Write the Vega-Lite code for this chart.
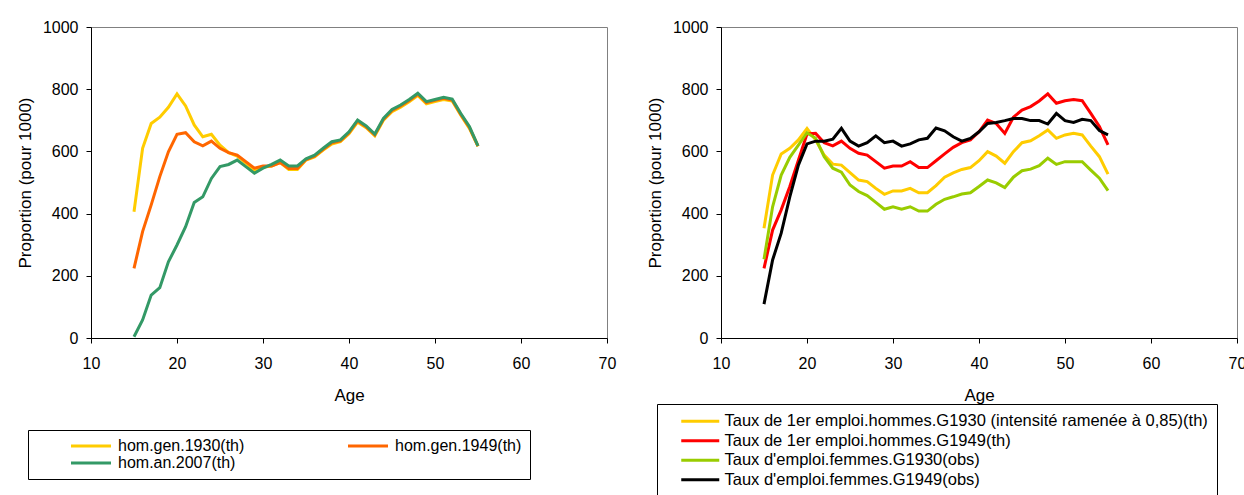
{
  "$schema": "https://vega.github.io/schema/vega-lite/v6.json",
  "background": "white",
  "padding": {"left": 15, "top": 18, "right": 0, "bottom": 0},
  "spacing": 28,
  "resolve": {"scale": {"color": "independent"}, "legend": {"color": "independent"}},
  "config": {
    "font": "Liberation Sans",
    "view": {"stroke": "#808080", "strokeWidth": 1},
    "axis": {
      "grid": false, "domainColor": "black", "domainWidth": 1, "tickColor": "black", "tickSize": 5,
      "labelFontSize": 16, "labelColor": "black", "labelFont": "Liberation Sans",
      "titleFontSize": 17, "titleFontWeight": "normal", "titleColor": "black", "titleFont": "Liberation Sans"
    },
    "legend": {"labelColor": "black", "labelFont": "Liberation Sans", "strokeColor": "black", "labelLimit": 0, "symbolStrokeWidth": 3, "symbolSize": 100, "titleFontSize": 10, "titleOrient": "left"},
    "line": {"strokeWidth": 3}
  },
  "datasets": {
    "left": [
      {"age": 15, "y1930": 406, "y1949": 224, "y2007": 4},
      {"age": 16, "y1930": 610, "y1949": 342, "y2007": 58},
      {"age": 17, "y1930": 690, "y1949": 428, "y2007": 138},
      {"age": 18, "y1930": 710, "y1949": 519, "y2007": 162},
      {"age": 19, "y1930": 742, "y1949": 599, "y2007": 245},
      {"age": 20, "y1930": 785, "y1949": 655, "y2007": 299},
      {"age": 21, "y1930": 746, "y1949": 660, "y2007": 358},
      {"age": 22, "y1930": 685, "y1949": 631, "y2007": 436},
      {"age": 23, "y1930": 647, "y1949": 618, "y2007": 454},
      {"age": 24, "y1930": 655, "y1949": 633, "y2007": 513},
      {"age": 25, "y1930": 620, "y1949": 610, "y2007": 551},
      {"age": 26, "y1930": 596, "y1949": 596, "y2007": 558},
      {"age": 27, "y1930": 585, "y1949": 588, "y2007": 572},
      {"age": 28, "y1930": 562, "y1949": 567, "y2007": 551},
      {"age": 29, "y1930": 538, "y1949": 546, "y2007": 530},
      {"age": 30, "y1930": 549, "y1949": 553, "y2007": 546},
      {"age": 31, "y1930": 553, "y1949": 553, "y2007": 558},
      {"age": 32, "y1930": 564, "y1949": 564, "y2007": 572},
      {"age": 33, "y1930": 542, "y1949": 545, "y2007": 553},
      {"age": 34, "y1930": 542, "y1949": 545, "y2007": 553},
      {"age": 35, "y1930": 572, "y1949": 574, "y2007": 576},
      {"age": 36, "y1930": 582, "y1949": 585, "y2007": 588},
      {"age": 37, "y1930": 604, "y1949": 607, "y2007": 610},
      {"age": 38, "y1930": 624, "y1949": 628, "y2007": 631},
      {"age": 39, "y1930": 631, "y1949": 634, "y2007": 637},
      {"age": 40, "y1930": 657, "y1949": 660, "y2007": 663},
      {"age": 41, "y1930": 694, "y1949": 698, "y2007": 701},
      {"age": 42, "y1930": 676, "y1949": 679, "y2007": 682},
      {"age": 43, "y1930": 650, "y1949": 653, "y2007": 656},
      {"age": 44, "y1930": 700, "y1949": 703, "y2007": 706},
      {"age": 45, "y1930": 728, "y1949": 732, "y2007": 735},
      {"age": 46, "y1930": 742, "y1949": 746, "y2007": 749},
      {"age": 47, "y1930": 760, "y1949": 764, "y2007": 767},
      {"age": 48, "y1930": 780, "y1949": 784, "y2007": 787},
      {"age": 49, "y1930": 753, "y1949": 757, "y2007": 760},
      {"age": 50, "y1930": 760, "y1949": 764, "y2007": 767},
      {"age": 51, "y1930": 767, "y1949": 771, "y2007": 774},
      {"age": 52, "y1930": 762, "y1949": 765, "y2007": 768},
      {"age": 53, "y1930": 716, "y1949": 719, "y2007": 722},
      {"age": 54, "y1930": 674, "y1949": 677, "y2007": 680},
      {"age": 55, "y1930": 616, "y1949": 617, "y2007": 618}
    ],
    "right": [
      {"age": 15, "h1930": 353, "h1949": 224, "f1930": 253, "f1949": 109},
      {"age": 16, "h1930": 524, "h1949": 347, "f1930": 422, "f1949": 251},
      {"age": 17, "h1930": 592, "h1949": 412, "f1930": 524, "f1949": 337},
      {"age": 18, "h1930": 610, "h1949": 487, "f1930": 581, "f1949": 454},
      {"age": 19, "h1930": 637, "h1949": 572, "f1930": 620, "f1949": 556},
      {"age": 20, "h1930": 674, "h1949": 656, "f1930": 660, "f1949": 624},
      {"age": 21, "h1930": 637, "h1949": 658, "f1930": 642, "f1949": 633},
      {"age": 22, "h1930": 588, "h1949": 628, "f1930": 583, "f1949": 633},
      {"age": 23, "h1930": 559, "h1949": 618, "f1930": 546, "f1949": 639},
      {"age": 24, "h1930": 556, "h1949": 633, "f1930": 533, "f1949": 674},
      {"age": 25, "h1930": 532, "h1949": 610, "f1930": 492, "f1949": 633},
      {"age": 26, "h1930": 508, "h1949": 594, "f1930": 471, "f1949": 617},
      {"age": 27, "h1930": 503, "h1949": 588, "f1930": 458, "f1949": 628},
      {"age": 28, "h1930": 481, "h1949": 567, "f1930": 436, "f1949": 650},
      {"age": 29, "h1930": 462, "h1949": 546, "f1930": 414, "f1949": 628},
      {"age": 30, "h1930": 473, "h1949": 553, "f1930": 422, "f1949": 633},
      {"age": 31, "h1930": 473, "h1949": 553, "f1930": 414, "f1949": 617},
      {"age": 32, "h1930": 481, "h1949": 567, "f1930": 422, "f1949": 624},
      {"age": 33, "h1930": 467, "h1949": 548, "f1930": 408, "f1949": 637},
      {"age": 34, "h1930": 467, "h1949": 548, "f1930": 408, "f1949": 642},
      {"age": 35, "h1930": 490, "h1949": 570, "f1930": 430, "f1949": 675},
      {"age": 36, "h1930": 517, "h1949": 592, "f1930": 446, "f1949": 666},
      {"age": 37, "h1930": 531, "h1949": 613, "f1930": 454, "f1949": 647},
      {"age": 38, "h1930": 542, "h1949": 628, "f1930": 463, "f1949": 633},
      {"age": 39, "h1930": 548, "h1949": 637, "f1930": 467, "f1949": 642},
      {"age": 40, "h1930": 570, "h1949": 663, "f1930": 487, "f1949": 663},
      {"age": 41, "h1930": 599, "h1949": 701, "f1930": 508, "f1949": 690},
      {"age": 42, "h1930": 585, "h1949": 690, "f1930": 499, "f1949": 693},
      {"age": 43, "h1930": 562, "h1949": 658, "f1930": 484, "f1949": 699},
      {"age": 44, "h1930": 599, "h1949": 710, "f1930": 517, "f1949": 706},
      {"age": 45, "h1930": 628, "h1949": 733, "f1930": 538, "f1949": 706},
      {"age": 46, "h1930": 634, "h1949": 744, "f1930": 543, "f1949": 699},
      {"age": 47, "h1930": 650, "h1949": 762, "f1930": 554, "f1949": 699},
      {"age": 48, "h1930": 669, "h1949": 785, "f1930": 578, "f1949": 688},
      {"age": 49, "h1930": 642, "h1949": 755, "f1930": 558, "f1949": 722},
      {"age": 50, "h1930": 653, "h1949": 763, "f1930": 567, "f1949": 699},
      {"age": 51, "h1930": 658, "h1949": 767, "f1930": 567, "f1949": 693},
      {"age": 52, "h1930": 653, "h1949": 763, "f1930": 567, "f1949": 703},
      {"age": 53, "h1930": 617, "h1949": 722, "f1930": 540, "f1949": 699},
      {"age": 54, "h1930": 583, "h1949": 680, "f1930": 514, "f1949": 667},
      {"age": 55, "h1930": 527, "h1949": 621, "f1930": 474, "f1949": 653}
    ]
  },
  "hconcat": [
    {
      "width": 516,
      "height": 311,
      "data": {"name": "left"},
      "transform": [{"fold": ["y1930", "y1949", "y2007"], "as": ["serie", "val"]}],
      "mark": {"type": "line", "strokeWidth": 3},
      "encoding": {
        "x": {"field": "age", "type": "quantitative", "scale": {"domain": [10, 70]},
          "axis": {"values": [10, 20, 30, 40, 50, 60, 70], "title": "Age", "labelPadding": 12, "titlePadding": 16, "labelFlush": false}},
        "y": {"field": "val", "type": "quantitative", "scale": {"domain": [0, 1000]},
          "axis": {"values": [0, 200, 400, 600, 800, 1000], "format": "d", "title": "Proportion (pour 1000)", "labelPadding": 8, "titlePadding": 8}},
        "color": {"field": "serie", "type": "nominal",
          "scale": {"domain": ["y1930", "y1949", "y2007"], "range": ["#FFCC00", "#FF6600", "#339966"]},
          "legend": {"title": " ", "titlePadding": 32, "orient": "none", "direction": "horizontal", "legendX": -63, "legendY": 403, "columns": 2, "columnPadding": 97, "rowPadding": 1, "padding": 8,
            "symbolType": "M-4,0H4", "symbolOffset": 15, "labelOffset": 19, "labelFontSize": 16,
            "labelExpr": "datum.label == 'y1930' ? 'hom.gen.1930(th)' : datum.label == 'y1949' ? 'hom.gen.1949(th)' : 'hom.an.2007(th)'"}}
      }
    },
    {
      "width": 516,
      "height": 311,
      "data": {"name": "right"},
      "transform": [{"fold": ["h1930", "h1949", "f1930", "f1949"], "as": ["serie", "val"]}],
      "mark": {"type": "line", "strokeWidth": 3},
      "encoding": {
        "x": {"field": "age", "type": "quantitative", "scale": {"domain": [10, 70]},
          "axis": {"values": [10, 20, 30, 40, 50, 60, 70], "title": "Age", "labelPadding": 12, "titlePadding": 16, "labelFlush": false}},
        "y": {"field": "val", "type": "quantitative", "scale": {"domain": [0, 1000]},
          "axis": {"values": [0, 200, 400, 600, 800, 1000], "format": "d", "title": "Proportion (pour 1000)", "labelPadding": 8, "titlePadding": 8}},
        "color": {"field": "serie", "type": "nominal",
          "scale": {"domain": ["h1930", "h1949", "f1930", "f1949"], "range": ["#FFCC00", "#FF0000", "#99CC00", "#000000"]},
          "legend": {"title": " ", "titlePadding": 12, "orient": "none", "legendX": -64, "legendY": 377, "rowPadding": 2.5, "padding": 9,
            "symbolType": "M-3.8,0H3.8", "symbolOffset": 14, "labelOffset": 16, "labelFontSize": 16.5,
            "labelExpr": "datum.label == 'h1930' ? 'Taux de 1er emploi.hommes.G1930 (intensité ramenée à 0,85)(th)' : datum.label == 'h1949' ? 'Taux de 1er emploi.hommes.G1949(th)' : datum.label == 'f1930' ? \"Taux d'emploi.femmes.G1930(obs)\" : \"Taux d'emploi.femmes.G1949(obs)\""}}
      }
    }
  ]
}
